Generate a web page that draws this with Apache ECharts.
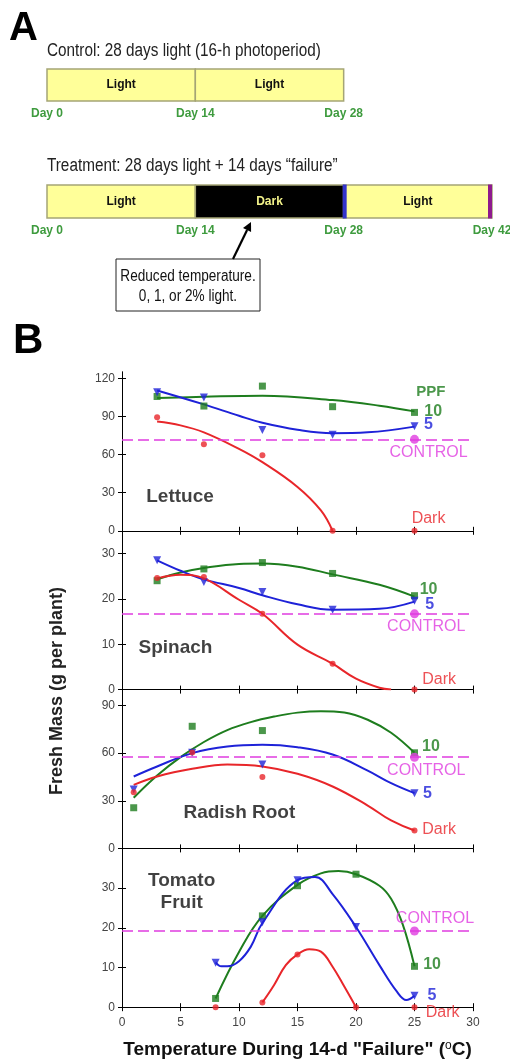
<!DOCTYPE html>
<html><head><meta charset="utf-8">
<script src="https://cdn.jsdelivr.net/npm/echarts@6/dist/echarts.min.js"></script>
<style>html,body{margin:0;padding:0;background:#fff}#c{width:510px;height:1064px}</style>
</head><body><div id="c"></div>
<script>
// ---------- Panel A: timeline ----------
const controlSegments = [[0, 14, 'Light'], [14, 28, 'Light']];
const controlDays = [0, 14, 28];
const treatmentSegments = [[0, 14, 'Light'], [14, 28, 'Dark'], [28, 42, 'Light']];
const treatmentDays = [0, 14, 28, 42];
const treatmentMarkers = [28, 42];

// ---------- Panel B: fresh mass (g per plant) vs temperature (°C) ----------
const lettuceTemps = [3, 7, 12, 18, 25];
const lettucePPF10 = [105.7, 98.2, 113.9, 97.7, 93.2];
const lettucePPF5 = [109, 105, 79.4, 75.7, 82.2];
const lettuceDark = [89.3, 68.2, 59.5, 0, 0];
const lettuceControl = 72;
const lettuceFit10 = [[3, 104.5], [7, 105.5], [12, 106.3], [18, 102.9], [22, 98.5], [25, 94]];
const lettuceFit5 = [[3, 110.5], [7, 99.5], [10, 90.5], [12, 85], [15, 79.5], [18, 76.8], [21, 77.5], [25, 82]];
const lettuceFitDark = [[3, 86], [5, 83], [7, 77.5], [10, 64.5], [12, 54], [15, 34.5], [17, 16], [18, 0]];

const spinachTemps = [3, 7, 12, 18, 25];
const spinachPPF10 = [24, 26.6, 28, 25.6, 20.7];
const spinachPPF5 = [28.5, 23.7, 21.5, 17.6, 19.6];
const spinachDark = [24.6, 24.8, 16.7, 5.7, 0];
const spinachControl = 16.7;
const spinachFit10 = [[3, 24.3], [5, 25.8], [7, 26.8], [10, 27.7], [12, 27.8], [15, 27.1], [18, 25.4], [22, 23.1], [25, 20.5]];
const spinachFit5 = [[3, 28.5], [5, 26.2], [7, 24.3], [10, 22.4], [12, 20.8], [15, 18.8], [18, 17.6], [22, 17.8], [25, 19.4]];
const spinachFitDark = [[3, 24.5], [5, 25.3], [7, 24.5], [10, 19.8], [12, 16.7], [15, 9.9], [18, 5.7], [20, 2.4], [22, 0.4], [23, 0]];

const radishTemps = [1, 6, 12, 25];
const radishPPF10 = [25.6, 76.9, 74.2, 60.2];
const radishPPF5 = [37.1, 60.2, 52.8, 34.8];
const radishDark = [35.4, 60.4, 44.9, 11.3];
const radishControl = 57.4;
const radishFit10 = [[1, 31.9], [3, 45.9], [5, 57.5], [7, 67], [9, 74.5], [11, 79.5], [13, 83], [15, 85.5], [17, 86.4], [19, 85.6], [21, 81], [23, 72.8], [25, 60.2]];
const radishFit5 = [[1, 45.3], [3, 51.6], [6, 60], [9, 64.2], [12, 65.2], [15, 63.7], [18, 59.1], [21, 49], [23, 41.1], [25, 34.8]];
const radishFitDark = [[1, 40], [3, 45.3], [6, 50.1], [9, 52.8], [12, 51.6], [15, 47], [18, 39], [21, 27], [23, 17.6], [25, 11.3]];

const tomatoTemps = [8, 12, 15, 20, 25];
const tomatoPPF10 = [2.2, 23, 30.6, 33.5, 10.3];
const tomatoPPF5 = [11.2, 21.4, 32, 20.2, 2.9];
const tomatoDark = [0, 1.2, 13.3, 0, 0];
const tomatoControl = 19.2;
const tomatoFit10 = [[8, 2.2], [10, 13.9], [12, 23], [15, 30.8], [17, 33.7], [18.5, 34.3], [20, 33.5], [22, 30.6], [23, 27.3], [24, 20.8], [25, 10.3]];
const tomatoFit5 = [[8, 11.3], [8.5, 10.3], [9, 10.3], [10, 11.6], [11, 15.2], [12, 21.2], [15, 32], [16.5, 32.8], [18, 28.5], [20, 20.2], [22, 10.6], [23.5, 3.9], [24.3, 1.8], [25, 2.9]];
const tomatoFitDark = [[12, 1.2], [13, 5.6], [14, 10.6], [15, 13.3], [16, 14.6], [17, 14], [18, 10.2], [19, 5.2], [20, 0]];

const xTicks = [0, 5, 10, 15, 20, 25, 30];
const lettuceYTicks = [0, 30, 60, 90, 120];
const spinachYTicks = [0, 10, 20, 30];
const radishYTicks = [0, 30, 60, 90];
const tomatoYTicks = [0, 10, 20, 30];

// ---------- styling ----------
const GREEN = '#1E7D1E', BLUE = '#1E22D8', RED = '#E8262A', MAG = '#E03CE0';
const SANS = "'Liberation Sans',Arial,sans-serif";
const NARROW_SCALE = 0.85;

const panels = [
  {temps: lettuceTemps, p10: lettucePPF10, p5: lettucePPF5, dark: lettuceDark, ctrl: lettuceControl,
   f10: lettuceFit10, f5: lettuceFit5, fd: lettuceFitDark, max: 125, yticks: lettuceYTicks,
   notes: [['PPF', 26.4, 109.4, GREEN, 'bold', 15], ['10', 26.6, 94.2, GREEN, 'bold', 16], ['5', 26.2, 83.6, BLUE, 'bold', 16],
           ['CONTROL', 26.2, 61.9, MAG, 'normal', 16], ['Dark', 26.2, 10, RED, 'normal', 16], ['Lettuce', 4.96, 26.4, '#111', 'bold', 19]]},
  {temps: spinachTemps, p10: spinachPPF10, p5: spinachPPF5, dark: spinachDark, ctrl: spinachControl,
   f10: spinachFit10, f5: spinachFit5, fd: spinachFitDark, max: 35, yticks: spinachYTicks,
   notes: [['10', 26.2, 22, GREEN, 'bold', 16], ['5', 26.3, 18.7, BLUE, 'bold', 16], ['CONTROL', 26.0, 13.8, MAG, 'normal', 16],
           ['Dark', 27.1, 2.2, RED, 'normal', 16], ['Spinach', 4.57, 9.3, '#111', 'bold', 19]]},
  {temps: radishTemps, p10: radishPPF10, p5: radishPPF5, dark: radishDark, ctrl: radishControl,
   f10: radishFit10, f5: radishFit5, fd: radishFitDark, max: 100, yticks: radishYTicks,
   notes: [['10', 26.4, 64.2, GREEN, 'bold', 16], ['CONTROL', 26.0, 49.1, MAG, 'normal', 16], ['5', 26.1, 34.8, BLUE, 'bold', 16],
           ['Dark', 27.1, 11.8, RED, 'normal', 16], ['Radish Root', 10.03, 22.5, '#111', 'bold', 19]]},
  {temps: tomatoTemps, p10: tomatoPPF10, p5: tomatoPPF5, dark: tomatoDark, ctrl: tomatoControl,
   f10: tomatoFit10, f5: tomatoFit5, fd: tomatoFitDark, max: 40, yticks: tomatoYTicks,
   notes: [['CONTROL', 26.75, 22.4, MAG, 'normal', 16], ['10', 26.5, 10.7, GREEN, 'bold', 16], ['5', 26.5, 2.9, BLUE, 'bold', 16],
           ['Dark', 27.4, -1.25, RED, 'normal', 16], ['Tomato\nFruit', 5.1, 29.2, '#111', 'bold', 19]]}
];

const PANEL_TOP = 372, PANEL_H = 158.8;
const grids = [], xAxes = [], yAxes = [], series = [];

panels.forEach((p, i) => {
  grids.push({left: 122, right: 37, top: PANEL_TOP + i * PANEL_H, height: PANEL_H, outerBoundsMode: 'none'});
  const last = i === panels.length - 1;
  const axLine = {show: true, lineStyle: {color: '#000', width: 1}};
  const tick = {show: true, inside: true, length: 4, lineStyle: {color: '#000'}};
  xAxes.push({gridIndex: i, type: 'value', min: 0, max: 30, interval: 5, position: 'bottom',
    axisLine: axLine, axisTick: tick, splitLine: {show: false},
    axisLabel: {show: last, color: '#444', fontFamily: SANS, fontSize: 12, margin: 9},
    name: last ? '{a|Temperature During 14-d "Failure" (}{s|o}{a|C)}' : '', nameLocation: 'middle', nameGap: 32,
    nameTextStyle: {rich: {a: {fontFamily: SANS, fontWeight: 'bold', fontSize: 19, color: '#111'},
                           s: {fontFamily: SANS, fontSize: 12, color: '#111', verticalAlign: 'top', padding: [0, 0, 9, 0]}}}});
  yAxes.push({gridIndex: i, type: 'value', min: 0, max: p.max, position: 'left',
    axisLine: axLine, splitLine: {show: false},
    axisTick: Object.assign({}, tick, {customValues: p.yticks}),
    axisLabel: {customValues: p.yticks, color: '#444', fontFamily: SANS, fontSize: 12, margin: 7}});
});
panels.forEach((p, i) => {
  const axLine = {show: true, lineStyle: {color: '#000', width: 1}};
  const tick = {show: true, inside: true, length: 4, lineStyle: {color: '#000'}};
  xAxes.push({gridIndex: i, type: 'value', min: 0, max: 30, interval: 5, position: 'top',
    axisLine: axLine, axisTick: tick, axisLabel: {show: false}, splitLine: {show: false}});
  yAxes.push({gridIndex: i, type: 'value', min: 0, max: p.max, position: 'right',
    axisLine: axLine, splitLine: {show: false},
    axisTick: Object.assign({}, tick, {customValues: p.yticks}), axisLabel: {show: false}});
});

panels.forEach((p, i) => {
  const ax = {xAxisIndex: i, yAxisIndex: i};
  const fit = (data, color) => Object.assign({type: 'line', data, smooth: 0.4, showSymbol: false, silent: true,
    lineStyle: {color, width: 2}, z: 3}, ax);
  const pts = (vals, color, symbol, size, rot) => Object.assign({type: 'scatter', silent: true, clip: false,
    data: p.temps.map((t, k) => [t, vals[k]]), symbol, symbolSize: size, symbolRotate: rot || 0,
    itemStyle: {color}, z: 4}, ax);
  series.push(fit(p.f10, GREEN), fit(p.f5, BLUE), fit(p.fd, RED));
  series.push(pts(p.p10, GREEN, 'rect', 7), pts(p.p5, BLUE, 'triangle', 8, 180), pts(p.dark, RED, 'circle', 6));
  series.push(Object.assign({type: 'scatter', silent: true, clip: false, data: [[25, p.ctrl]], symbol: 'circle',
    symbolSize: 9, itemStyle: {color: MAG}, z: 5,
    markLine: {silent: true, symbol: 'none', label: {show: false}, animation: false,
      lineStyle: {color: MAG, type: [11, 5], width: 1.5}, data: [{yAxis: p.ctrl}]}}, ax));
  series.push(Object.assign({type: 'scatter', silent: true, clip: false, symbolSize: 0, z: 6,
    data: p.notes.map(n => ({value: [n[1], n[2]],
      label: {show: true, position: 'inside', formatter: n[0], color: n[3], fontWeight: n[4], fontSize: n[5],
              fontFamily: SANS, lineHeight: n[5] + 3, align: 'center', verticalAlign: 'middle'}}))}, ax));
});

// Panel A grids (index 4 and 5)
const dayLabel = (vals) => ({customValues: vals, formatter: 'Day {value}', color: '#3E9B3E', fontWeight: 'bold',
  fontFamily: SANS, fontSize: 12, margin: 7});
grids.push({left: 47, right: 18, top: 69, height: 32, outerBoundsMode: 'none'});
grids.push({left: 47, right: 18, top: 185, height: 33, outerBoundsMode: 'none'});
const aX1 = xAxes.length;
xAxes.push({gridIndex: 4, type: 'value', min: 0, max: 42, axisLine: {show: false}, axisTick: {show: false},
  splitLine: {show: false}, axisLabel: dayLabel(controlDays)});
xAxes.push({gridIndex: 5, type: 'value', min: 0, max: 42, axisLine: {show: false}, axisTick: {show: false},
  splitLine: {show: false}, axisLabel: dayLabel(treatmentDays)});
const aY1 = yAxes.length;
yAxes.push({gridIndex: 4, type: 'value', min: 0, max: 1, show: false});
yAxes.push({gridIndex: 5, type: 'value', min: 0, max: 1, show: false});

function segRender(segs) {
  return function (params, api) {
    const s = segs[params.dataIndex];
    const p0 = api.coord([s[0], 1]), p1 = api.coord([s[1], 0]);
    const dark = s[2] === 'Dark';
    return {type: 'rect', shape: {x: p0[0], y: p0[1], width: p1[0] - p0[0], height: p1[1] - p0[1]},
      style: {fill: dark ? '#000' : '#FFFF99', stroke: '#A5A575', lineWidth: 1.5},
      textContent: {style: {text: s[2], fill: dark ? '#F2F28A' : '#111', font: 'bold 12px ' + SANS}},
      textConfig: {position: 'inside'}};
  };
}
series.push({type: 'custom', xAxisIndex: aX1, yAxisIndex: aY1, silent: true,
  data: controlSegments, renderItem: segRender(controlSegments)});
series.push({type: 'custom', xAxisIndex: aX1 + 1, yAxisIndex: aY1 + 1, silent: true,
  data: treatmentSegments, renderItem: segRender(treatmentSegments)});
const markerColors = ['#3333CC', '#8E1A8E'];
series.push({type: 'custom', xAxisIndex: aX1 + 1, yAxisIndex: aY1 + 1, silent: true, z: 5,
  data: treatmentMarkers, renderItem: function (params, api) {
    const d = treatmentMarkers[params.dataIndex];
    const top = api.coord([d, 1]), bot = api.coord([d, 0]);
    const end = api.coord([42, 0])[0];
    const x0 = Math.min(top[0] - 1, end - 4);
    return {type: 'rect', shape: {x: x0, y: top[1] - 0.5, width: 4, height: bot[1] - top[1] + 1},
      style: {fill: markerColors[params.dataIndex]}};
  }});

const graphic = [
  {type: 'text', left: 9, top: 9, style: {text: 'A', font: 'bold 40px ' + SANS, fill: '#000'}},
  {type: 'text', left: 13, top: 320, style: {text: 'B', font: 'bold 42px ' + SANS, fill: '#000'}},
  {type: 'text', x: 47, y: 51, scaleX: NARROW_SCALE, style: {text: 'Control: 28 days light (16-h photoperiod)',
    font: '18px ' + SANS, fill: '#222', verticalAlign: 'middle'}},
  {type: 'text', x: 47, y: 166, scaleX: NARROW_SCALE, style: {text: 'Treatment: 28 days light + 14 days \u201Cfailure\u201D',
    font: '18px ' + SANS, fill: '#222', verticalAlign: 'middle'}},
  {type: 'rect', shape: {x: 116, y: 259, width: 144, height: 52}, style: {fill: '#fff', stroke: '#222', lineWidth: 1}},
  {type: 'text', x: 188, y: 277, scaleX: NARROW_SCALE, style: {text: 'Reduced temperature.', font: '16px ' + SANS, fill: '#111',
    align: 'center', verticalAlign: 'middle'}},
  {type: 'text', x: 188, y: 297, scaleX: NARROW_SCALE, style: {text: '0, 1, or 2% light.', font: '16px ' + SANS, fill: '#111',
    align: 'center', verticalAlign: 'middle'}},
  {type: 'line', shape: {x1: 233, y1: 259, x2: 247.1, y2: 230.1}, style: {stroke: '#000', lineWidth: 2.2}},
  {type: 'polygon', shape: {points: [[251, 222], [251.1, 232.1], [243.0, 228.1]]}, style: {fill: '#000'}},
  {type: 'text', x: 57, y: 691, rotation: Math.PI / 2,
    style: {text: 'Fresh Mass (g per plant)', font: 'bold 18px ' + SANS, fill: '#222', align: 'center', verticalAlign: 'middle'}}
];

const chart = echarts.init(document.getElementById('c'), null, {renderer: 'canvas'});
chart.setOption({animation: false, backgroundColor: '#fff', grid: grids, xAxis: xAxes, yAxis: yAxes, series, graphic});
</script></body></html>
